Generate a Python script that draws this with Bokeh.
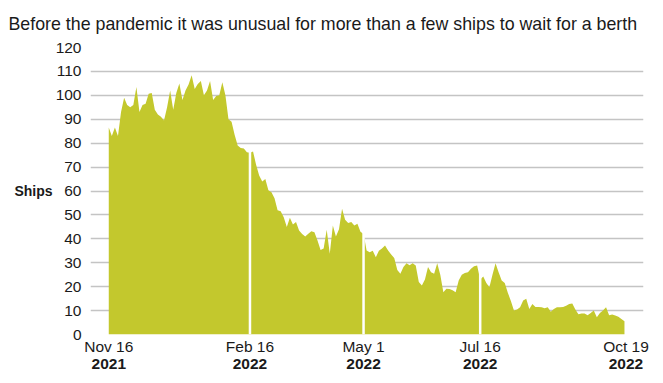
import numpy as np
import pandas as pd
from bokeh.plotting import figure
from bokeh.models import Range1d, LinearAxis, FixedTicker
from bokeh.embed import file_html
from bokeh.resources import INLINE

# ---------------- data ----------------
start_date = "2021-11-16"
# ships waiting for a berth, one reading every 2 days from Nov 16 2021
ships_waiting = [
    86.5, 83, 86.5, 83, 93, 99, 96, 95, 96, 103.5,
    93, 96, 96.5, 100.7, 101, 94, 92, 91, 89.5, 95,
    102, 94, 101, 105, 98, 102, 104.5, 108.4, 102.6, 104.7,
    106, 100, 102, 106, 98, 99.7, 100, 105.5, 100, 90,
    89, 83.5, 79, 78, 77.8, 76.2, 76, 76.5, 71, 66.5,
    64, 65, 60.3, 59.5, 57, 52, 51.5, 49, 45, 48.8,
    46, 47, 43.5, 42, 41, 42.1, 43.2, 42.8, 39.3, 35.3,
    36, 43.8, 33.8, 45.6, 41, 44, 52.6, 48, 46.6, 47,
    45.6, 46.3, 43, 42, 35.1, 34.4, 35, 32.3, 35, 36,
    37.2, 35.1, 33.5, 32, 27, 25.4, 28.2, 29.8, 29, 29.8,
    28.9, 22, 20.5, 23, 28.2, 26, 25.4, 29.8, 25, 17.7,
    19.1, 19, 18.5, 17.7, 22.6, 25, 25.7, 26, 27.5, 28.5,
    28.9, 23, 24.3, 21.5, 19.8, 25, 29.8, 26, 22.6, 21.5,
    17.5, 14, 10, 10.5, 11.4, 14.2, 15, 10.7, 12.8, 11.5,
    11.5, 11.4, 11, 11.4, 9.5, 10.7, 11.4, 11.4, 11.5, 12,
    12.8, 13, 10.5, 8.5, 8.8, 8.8, 8, 9, 10, 7.2,
    9, 10, 11.4, 8, 8.4, 7.9, 7.4, 6.5, 5.5,
]
tick_dates = ["2021-11-16", "2022-02-16", "2022-05-01", "2022-07-16", "2022-10-19"]
tick_day_labels = ["Nov 16", "Feb 16", "May 1", "Jul 16", "Oct 19"]
tick_year_labels = ["2021", "2022", "2022", "2022", "2022"]
divider_dates = ["2022-02-16", "2022-05-01", "2022-07-16"]
y_ticks = list(range(0, 121, 10))

title_text = "Before the pandemic it was unusual for more than a few ships to wait for a berth"
y_label_text = "Ships"
y_label_at = 60

# ---------------- derived ----------------
t0 = pd.Timestamp(start_date)
dates = pd.date_range(start_date, periods=len(ships_waiting), freq="2D")
days = np.array((dates - t0).days, dtype=float)
vals = np.array(ships_waiting, dtype=float)
tick_days = [int((pd.Timestamp(d) - t0).days) for d in tick_dates]
div_days = [int((pd.Timestamp(d) - t0).days) for d in divider_dates]

# ---------------- layout constants ----------------
FL, FR, FT, FB = 90, 16, 47, 45
FW, FH = 553, 287
x0, x1 = -11.9, 348.4
y0, y1 = 0, 120

FONT = "Liberation Sans"
TXT = "#1a1a1a"
FILL = "#c3c82d"
FS = "15.5px"

p = figure(frame_width=FW, frame_height=FH, output_backend="svg", toolbar_location=None,
           x_axis_type=None, x_range=Range1d(x0, x1), y_range=Range1d(y0, y1),
           min_border_left=FL, min_border_right=FR, min_border_top=FT, min_border_bottom=FB)
p.outline_line_color = None
p.background_fill_color = "white"
p.border_fill_color = "white"

# title
p.title.text = title_text
p.title.text_font = FONT
p.title.text_font_size = "17.8px"
p.title.text_font_style = "normal"
p.title.text_color = TXT
p.title.text_line_height = 0.7
p.title.align = "left"
p.title.vertical_align = "top"
p.title.offset = -(FL - 8)
p.title.standoff = 24


def clean_axis(ax, size, style, standoff):
    ax.axis_line_color = None
    ax.major_tick_line_color = None
    ax.minor_tick_line_color = None
    ax.major_tick_out = 0
    ax.major_tick_in = 0
    ax.major_label_text_font = FONT
    ax.major_label_text_font_size = size
    ax.major_label_text_font_style = style
    ax.major_label_text_color = TXT
    ax.major_label_standoff = standoff


# y axis
ya = p.yaxis[0]
ya.ticker = FixedTicker(ticks=y_ticks)
clean_axis(ya, FS, "normal", 9)

# "Ships" as an outer left axis with a single labelled tick
ya2 = LinearAxis(ticker=FixedTicker(ticks=[y_label_at]),
                 major_label_overrides={y_label_at: y_label_text})
clean_axis(ya2, "14px", "bold", 0)
p.add_layout(ya2, "left")

p.ygrid.ticker = FixedTicker(ticks=y_ticks)
p.ygrid.grid_line_color = "#c4c4c4"
p.ygrid.grid_line_width = 1.5
p.xgrid.grid_line_color = None

# x axes (two lines of labels)
ax1 = LinearAxis(ticker=FixedTicker(ticks=tick_days),
                 major_label_overrides={d: s for d, s in zip(tick_days, tick_day_labels)})
ax2 = LinearAxis(ticker=FixedTicker(ticks=tick_days),
                 major_label_overrides={d: s for d, s in zip(tick_days, tick_year_labels)})
clean_axis(ax1, FS, "normal", 3)
clean_axis(ax2, FS, "bold", 1)
p.add_layout(ax1, "below")
p.add_layout(ax2, "below")

# area
p.varea(x=days, y1=0, y2=vals, fill_color=FILL, fill_alpha=1.0)

# white divider lines at the month ticks
seg_x, seg_top = [], []
for d in div_days:
    i = int(np.argmin(np.abs(days - d)))
    seg_x.append(d)
    seg_top.append(float(vals[max(i - 1, 0):i + 2].max()) + 0.3)
p.segment(x0=seg_x, y0=[0] * len(seg_x), x1=seg_x, y1=seg_top, line_color="white", line_width=2.5)

open("out.html", "w").write(file_html(p, INLINE))
